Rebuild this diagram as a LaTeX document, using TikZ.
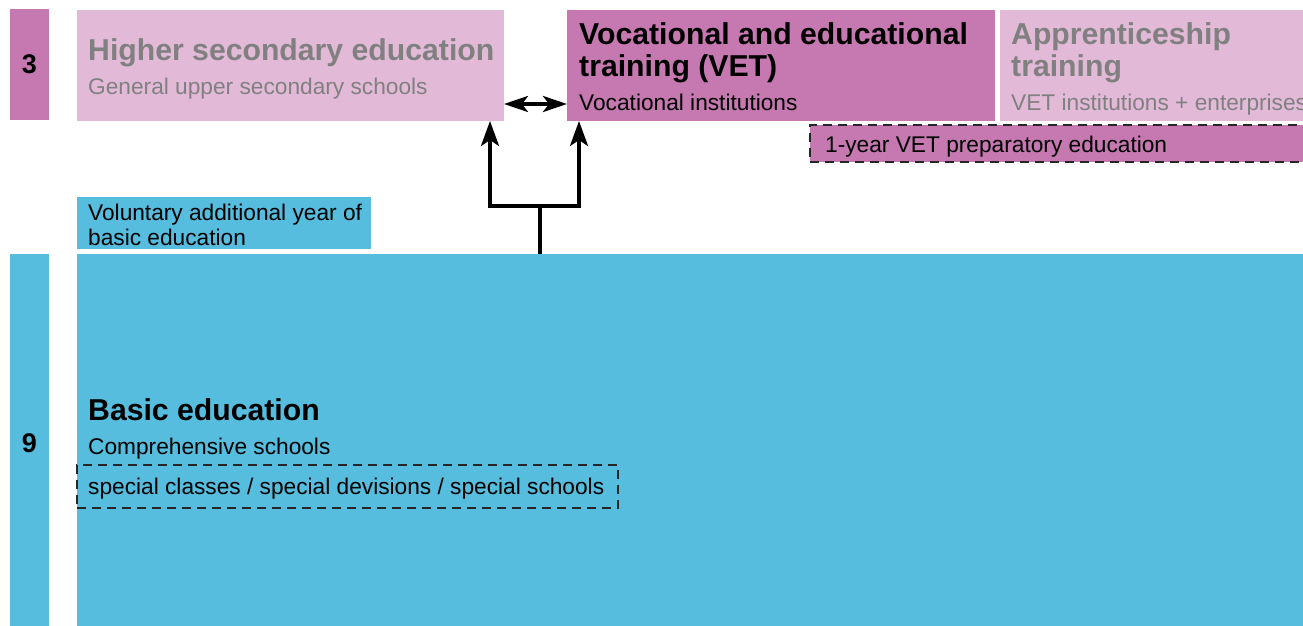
\documentclass[tikz,border=0pt]{standalone}
\usepackage{fontspec}
\setmainfont{Liberation Sans}
\usetikzlibrary{arrows.meta}
\definecolor{mag}{RGB}{198,121,177}
\definecolor{lpink}{RGB}{226,186,216}
\definecolor{eblue}{RGB}{86,189,222}
\definecolor{gtext}{RGB}{128,128,128}
\tikzset{
  box/.style={draw=none, inner sep=0pt, outer sep=0pt, anchor=north west},
  dashbox/.style={box, draw=black!85, line width=2pt, dash pattern=on 9pt off 6pt},
  bigtxt/.style={font=\fontsize{30.2}{30}\selectfont\bfseries, inner sep=0pt, anchor=base west},
  smalltxt/.style={font=\fontsize{22.7}{22}\selectfont, inner sep=0pt, anchor=base west},
  yeartxt/.style={font=\fontsize{27}{27}\selectfont\bfseries, inner sep=0pt},
  conn/.style={line width=3.5pt},
  tipst/.tip={Stealth[length=25pt,width=18pt,inset=6pt]},
  tipsm/.tip={Stealth[length=24pt,width=16pt,inset=6pt]}
}
\begin{document}
\begin{tikzpicture}[x=1pt,y=-1pt]
\useasboundingbox (0,0) rectangle (1303,626);
\clip (0,0) rectangle (1303,626);
\fill[white] (0,0) rectangle (1303,626);

% year columns
\node[box, fill=mag, minimum width=39pt, minimum height=111pt] (y3) at (10,9) {};
\node[yeartxt] at (y3.center) {3};
\node[box, fill=eblue, minimum width=39pt, minimum height=380pt] (y9) at (10,254) {};
\node[yeartxt] at (29.5,443) {9};

% upper secondary
\node[box, fill=lpink, minimum width=427pt, minimum height=111pt] (hs) at (77,10) {};
\node[bigtxt, text=gtext] at (88,60) {Higher secondary education};
\node[smalltxt, text=gtext] at (88,94) {General upper secondary schools};

\node[box, fill=mag, minimum width=428pt, minimum height=111pt] (vet) at (567,10) {};
\node[bigtxt] at (579,45) {Vocational and educational};
\node[bigtxt] at (579,76) {training (VET)};
\node[smalltxt] at (579,110) {Vocational institutions};

\node[box, fill=lpink, minimum width=320pt, minimum height=111pt] (app) at (1000,10) {};
\node[bigtxt, text=gtext] at (1011,45) {Apprenticeship};
\node[bigtxt, text=gtext] at (1011,76) {training};
\node[smalltxt, text=gtext] at (1011,110) {VET institutions + enterprises};

\node[dashbox, fill=mag, minimum width=510pt, minimum height=37pt] (prep) at (810,125) {};
\node[smalltxt] at (825,152) {1-year VET preparatory education};

% basic education
\node[box, fill=eblue, minimum width=294pt, minimum height=52pt] (vol) at (77,197) {};
\node[smalltxt] at (88,220) {Voluntary additional year of};
\node[smalltxt] at (88,245) {basic education};

\node[box, fill=eblue, minimum width=1240pt, minimum height=380pt] (basic) at (77,254) {};
\node[bigtxt] at (88,420) {Basic education};
\node[smalltxt] at (88,454) {Comprehensive schools};
\node[dashbox, minimum width=541pt, minimum height=43pt] (spec) at (77,465) {};
\node[smalltxt] at (88,494) {special classes / special devisions / special schools};

% connectors
\coordinate (ya) at (0,104);
\coordinate (j) at (540,206);
\coordinate (jl) at (490,206);
\coordinate (jr) at (579,206);
\draw[conn, tipsm-tipsm] (hs.east |- ya) -- (vet.west |- ya);
\draw[conn] (basic.north -| j) -- (j);
\draw[conn, -tipst] (j) -- (jl) -- (jl |- hs.south);
\draw[conn, -tipst] (j) -- (jr) -- (jr |- vet.south);
\end{tikzpicture}
\end{document}
